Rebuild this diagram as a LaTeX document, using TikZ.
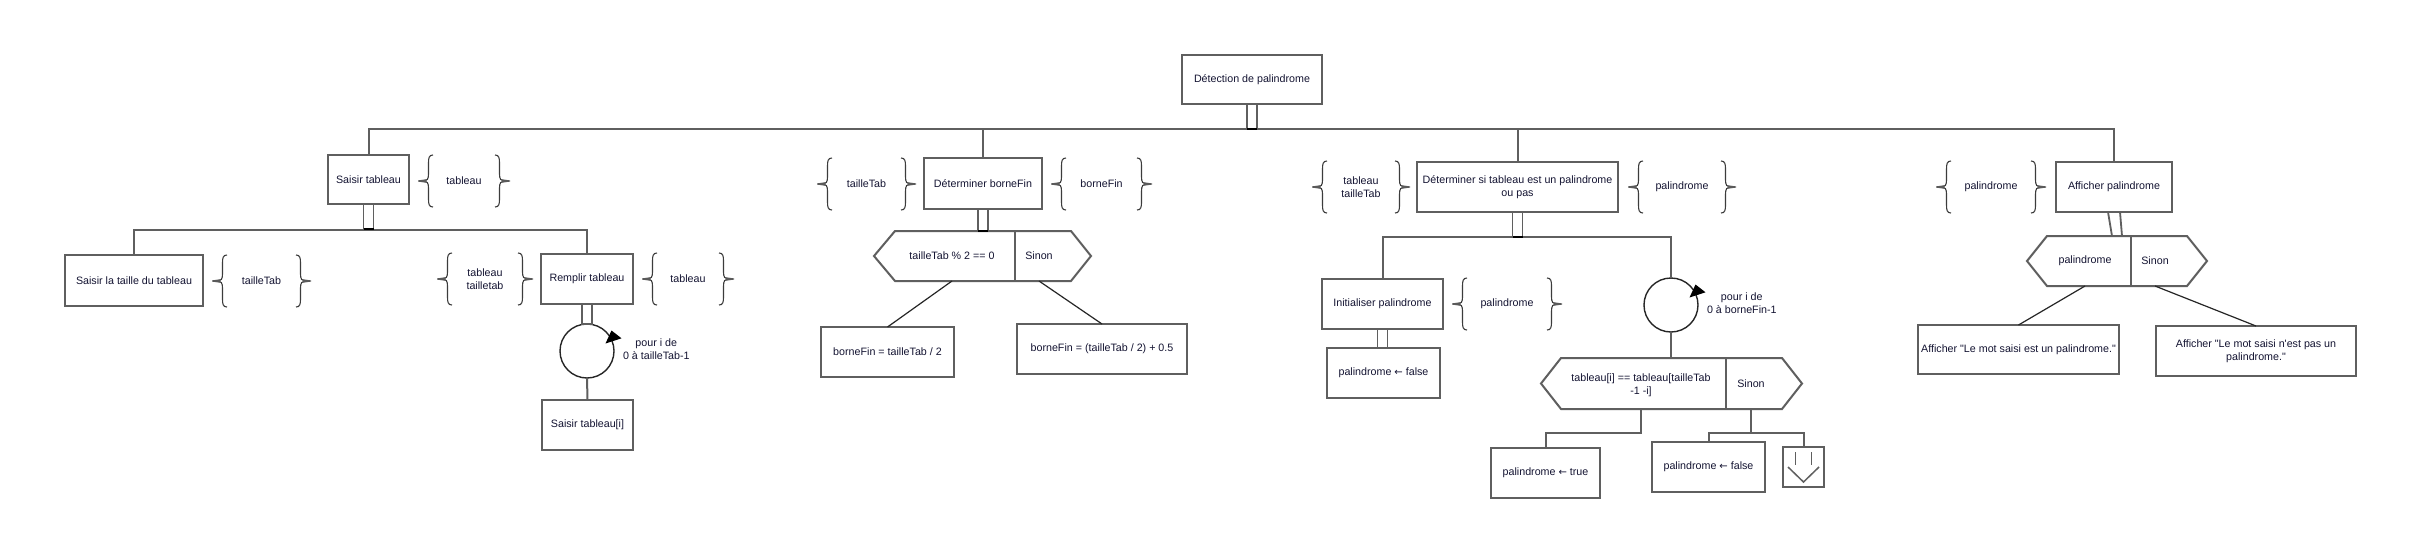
\documentclass[tikz,border=0pt]{standalone}
\usepackage{fontspec}
\newfontfamily\diagfont{Liberation Sans}
\newfontfamily\arrfont{DejaVu Sans}
\newcommand\larr{{\arrfont\fontsize{10}{13}\selectfont ←}}
\usetikzlibrary{calc}
\definecolor{boxgray}{RGB}{95,95,95}
\definecolor{txt}{RGB}{20,20,50}
\definecolor{brgray}{RGB}{60,60,60}
\definecolor{markc}{RGB}{90,90,90}
\tikzset{
  bracepath/.style={draw=brgray, line width=1.1pt},
  lbr/.pic={
    \draw[bracepath] (9,-26) .. controls (5,-26) and (4.5,-23) .. (4.5,-18) -- (4.5,-7) .. controls (4.5,-2) and (3,0) .. (0,0) .. controls (3,0) and (4.5,2) .. (4.5,7) -- (4.5,18) .. controls (4.5,23) and (5,26) .. (9,26);
    \fill[markc] (2.5,-1.8) -- (-6,-0.6) -- (-6,0.6) -- (2.5,1.8) -- cycle;
  },
  rbr/.pic={
    \draw[bracepath] (-9,-26) .. controls (-5,-26) and (-4.5,-23) .. (-4.5,-18) -- (-4.5,-7) .. controls (-4.5,-2) and (-3,0) .. (0,0) .. controls (-3,0) and (-4.5,2) .. (-4.5,7) -- (-4.5,18) .. controls (-4.5,23) and (-5,26) .. (-9,26);
    \fill[markc] (-2.5,-1.8) -- (6,-0.6) -- (6,0.6) -- (-2.5,1.8) -- cycle;
  }
}
\newcommand\datagrp[5]{%
  \pic at (#2,#4) {lbr};
  \pic at (#3,#4) {rbr};
  \node[datatxt] (#1) at ({(#2+#3)/2},#4) {#5};}
\begin{document}
\begin{tikzpicture}[x=1pt,y=-1pt,
  every node/.style={font=\diagfont\fontsize{10.7}{13}\selectfont, text=txt, inner sep=0pt, outer sep=0pt},
  box/.style={draw=boxgray, line width=2pt, fill=white, align=center},
  datatxt/.style={align=center},
  conn/.style={draw=boxgray, line width=2pt},
  branch/.style={draw=black!85, line width=1.2pt},
  seqbar/.style={draw=boxgray, line width=1.8pt, minimum width=10pt, anchor=north},
  loopc/.style={draw=black!85, line width=1.4pt, circle, minimum size=54pt},
  hexa/.style={draw=boxgray, line width=2pt, line join=miter},
  innerl/.style={draw=boxgray, line width=1.5pt}
]
\useasboundingbox[fill=white] (0,0) rectangle (2421,547);

% ---------- boxes ----------
\node[box, minimum width=140pt, minimum height=49pt] (root) at (1252,79.5) {Détection de palindrome};
\node[box, minimum width=81pt, minimum height=49pt] (saisirTab) at (368.5,179.5) {Saisir tableau};
\node[box, minimum width=138pt, minimum height=51pt] (taille) at (134,280.5) {Saisir la taille du tableau};
\node[box, minimum width=92pt, minimum height=50pt] (remplir) at (587,279) {Remplir tableau};
\node[box, minimum width=91pt, minimum height=50pt] (saisirI) at (587.5,425) {Saisir tableau[i]};
\node[box, minimum width=118pt, minimum height=51pt] (detBorne) at (983,183.5) {Déterminer borneFin};
\node[box, minimum width=133pt, minimum height=50pt] (bf1) at (887.5,352) {borneFin = tailleTab / 2};
\node[box, minimum width=170pt, minimum height=50pt] (bf2) at (1102,349) {borneFin = (tailleTab / 2) + 0.5};
\node[box, minimum width=201pt, minimum height=50pt] (detPal) at (1517.5,187) {Déterminer si tableau est un palindrome\\ou pas};
\node[box, minimum width=121pt, minimum height=50pt] (init) at (1382.5,304) {Initialiser palindrome};
\node[box, minimum width=113pt, minimum height=50pt] (palF1) at (1383.5,373) {palindrome \larr{} false};
\node[box, minimum width=109pt, minimum height=50pt] (palT) at (1545.5,473) {palindrome \larr{} true};
\node[box, minimum width=113pt, minimum height=50pt] (palF2) at (1708.5,467) {palindrome \larr{} false};
\node[box, minimum width=41pt, minimum height=40pt] (exitb) at (1803.5,467) {};
\node[box, minimum width=116pt, minimum height=50pt] (affPal) at (2114,187) {Afficher palindrome};
\node[box, minimum width=201pt, minimum height=49pt] (aff1) at (2018.5,349.5) {Afficher "Le mot saisi est un palindrome."};
\node[box, minimum width=200pt, minimum height=50pt] (aff2) at (2256,351) {Afficher "Le mot saisi n'est pas un\\palindrome."};

% exit symbol
\draw[innerl] ($(exitb.center)+(-8,-15)$) -- ($(exitb.center)+(-8,-2)$);
\draw[innerl] ($(exitb.center)+(8,-15)$) -- ($(exitb.center)+(8,-2)$);
\draw[innerl] ($(exitb.center)+(-15.5,0)$) -- ($(exitb.center)+(0,15)$) -- ($(exitb.center)+(15.5,0)$);

% ---------- loops ----------
\node[loopc] (loop1) at (587,351) {};
\node[loopc] (loop2) at (1671,305) {};
\fill[black] ($(loop1.center)+(18.5,-7.5)$) -- ($(loop1.center)+(34.5,-12.7)$) -- ($(loop1.center)+(24.5,-20.5)$) -- cycle;
\fill[black] ($(loop2.center)+(18.5,-7.5)$) -- ($(loop2.center)+(34.5,-12.7)$) -- ($(loop2.center)+(24.5,-20.5)$) -- cycle;
\node[anchor=west, align=center] (l1t) at ($(loop1.center)+(36,-2)$) {pour i de\\0 à tailleTab-1};
\node[anchor=west, align=center] (l2t) at ($(loop2.center)+(36,-2)$) {pour i de\\0 à borneFin-1};

% ---------- hexagons ----------
\coordinate (h1L) at (874,256); \coordinate (h1TL) at (895,231); \coordinate (h1TR) at (1071,231);
\coordinate (h1R) at (1091,256); \coordinate (h1BR) at (1071,281); \coordinate (h1BL) at (895,281);
\draw[hexa] (h1L) -- (h1TL) -- (h1TR) -- (h1R) -- (h1BR) -- (h1BL) -- cycle;
\draw[hexa] (1015,231) -- (1015,281);
\node (h1c) at (952,256) {tailleTab \% 2 == 0};
\node (h1s) at (1039,256) {Sinon};

\coordinate (h2L) at (1541,383.5); \coordinate (h2TL) at (1561,358); \coordinate (h2TR) at (1782,358);
\coordinate (h2R) at (1802,383.5); \coordinate (h2BR) at (1782,409); \coordinate (h2BL) at (1561,409);
\draw[hexa] (h2L) -- (h2TL) -- (h2TR) -- (h2R) -- (h2BR) -- (h2BL) -- cycle;
\draw[hexa] (1726,358) -- (1726,409);
\node[align=center] (h2c) at (1641,385) {tableau[i] == tableau[tailleTab\\-1 -i]};
\node (h2s) at (1751,384) {Sinon};

\coordinate (h3L) at (2027,261); \coordinate (h3TL) at (2047,236); \coordinate (h3TR) at (2187,236);
\coordinate (h3R) at (2207,261); \coordinate (h3BR) at (2187,286); \coordinate (h3BL) at (2047,286);
\draw[hexa] (h3L) -- (h3TL) -- (h3TR) -- (h3R) -- (h3BR) -- (h3BL) -- cycle;
\draw[hexa] (2131,236) -- (2131,286);
\node (h3c) at (2085,261) {palindrome};
\node (h3s) at (2155,261) {Sinon};

% ---------- buses ----------
\coordinate (bus1) at (0,129);
\coordinate (bus2) at (0,230);
\coordinate (bus3) at (0,237);
\coordinate (bus4) at (0,433);

\draw[conn] (saisirTab.north) -- (saisirTab.north |- bus1) -- (affPal.north |- bus1) -- (affPal.north);
\draw[conn] (detBorne.north) -- (detBorne.north |- bus1);
\draw[conn] (detPal.north) -- (detPal.north |- bus1);
\draw[conn] (taille.north) |- (remplir.north |- bus2) -- (remplir.north);
\draw[conn] (init.north) |- (loop2.north |- bus3) -- (loop2.north);
\draw[conn] (loop1.south) -- (saisirI.north);
\draw[conn] (loop2.south) -- (loop2.south |- h2TL);
\draw[conn] (h2c |- h2BL) -- (h2c |- bus4) -| (palT.north);
\draw[conn] (h2s |- h2BL) -- (h2s |- bus4);
\draw[conn] (palF2.north) |- (exitb.north |- bus4) -- (exitb.north);

% sequence bars
\node[seqbar, minimum height=25pt] (s0) at (root.south) {};
\node[seqbar, minimum height=25pt] (s1) at (saisirTab.south) {};
\node[seqbar, minimum height=20pt] (s2) at (remplir.south) {};
\node[seqbar, minimum height=22pt] (s3) at (detBorne.south) {};
\node[seqbar, minimum height=25pt] (s4) at (detPal.south) {};
\node[seqbar, minimum height=19pt] (s5) at (init.south) {};
\draw[draw=boxgray, line width=1.8pt] ($(affPal.south)+(-6,0)$) -- ($(affPal.south)+(-2,24)$) -- ($(affPal.south)+(8,24)$) -- ($(affPal.south)+(6,0)$);
\foreach \s in {s0,s1,s3,s4}{\draw[black, line width=2.2pt] (\s.south west) -- (\s.south east);}

% hexagon branches
\draw[branch] (h1c |- h1BL) -- (bf1.north);
\draw[branch] (h1s |- h1BL) -- (bf2.north);
\draw[branch] (h3c |- h3BL) -- (aff1.north);
\draw[branch] (h3s |- h3BL) -- (aff2.north);

% ---------- data groups ----------
\datagrp{d1}{424}{504}{181}{tableau}
\datagrp{d2}{218}{305}{281}{tailleTab}
\datagrp{d3}{443}{527}{279}{tableau\\tailletab}
\datagrp{d4}{648}{728}{279}{tableau}
\datagrp{d5}{823}{910}{184}{tailleTab}
\datagrp{d6}{1057}{1146}{184}{borneFin}
\datagrp{d7}{1318}{1404}{187}{tableau\\tailleTab}
\datagrp{d8}{1634}{1730}{187}{palindrome}
\datagrp{d9}{1458}{1556}{304}{palindrome}
\datagrp{d10}{1942}{2040}{187}{palindrome}
\end{tikzpicture}
\end{document}
